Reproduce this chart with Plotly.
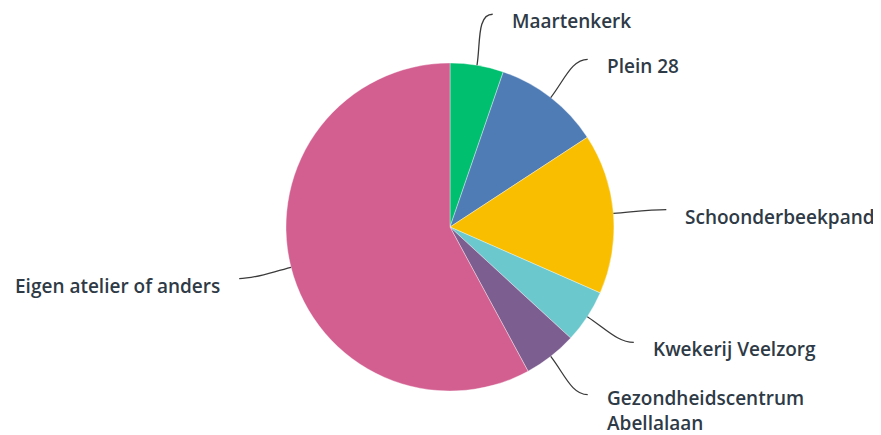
import math
import plotly.graph_objects as go

labels = ["Maartenkerk", "Plein 28", "Schoonderbeekpand", "Kwekerij Veelzorg",
          "Gezondheidscentrum Abellalaan", "Eigen atelier of anders"]
values = [5, 10, 15, 5, 5, 55]
colors = ["#00BF6F", "#507CB6", "#F9BE00", "#6BC8CD", "#7D5E90", "#D25F90"]

W, H = 881, 435
OFF = 8  # page body margin
CX, CY, R = 450 - OFF, 227 - OFF, 164
R_END = 217
TEXT_COLOR = "#2E3A46"
FONT = "'Open Sans', Roboto, sans-serif"
FS = 19
BOTTOM_LIMIT = H - OFF - 1  # keep wrapped labels inside the visible page


def px_to_paper(x, y):
    return x / W, 1 - y / H


fig = go.Figure(go.Pie(
    labels=labels, values=values, sort=False, direction="clockwise", rotation=0,
    marker=dict(colors=colors, line=dict(color="rgba(255,255,255,0.6)", width=0.6)),
    textinfo="none", hoverinfo="label+percent", showlegend=False,
    domain=dict(x=[(CX - R) / W, (CX + R) / W], y=[1 - (CY + R) / H, 1 - (CY - R) / H]),
))

total = sum(values)
cum = 0
shapes, annotations = [], []
for lab, v in zip(labels, values):
    mid = (cum + v / 2) / total * 2 * math.pi
    cum += v
    s, c = math.sin(mid), math.cos(mid)
    side = 1 if s >= 0 else -1
    toward = 1 if (mid % math.pi) < math.pi / 2 else -1
    if side < 0:
        toward = -toward
    ang_end = mid + toward * side * math.radians(1.9) * abs(c)
    p0 = (CX + R * s, CY - R * c)
    p3 = (CX + R_END * math.sin(ang_end), CY - R_END * math.cos(ang_end))
    p1 = (CX + (R + 22) * s, CY - (R + 22) * c)
    p2 = (p3[0] - side * 16, p3[1])
    pts = [px_to_paper(*p) for p in (p0, p1, p2, p3)]
    path = "M {:.5f},{:.5f} C {:.5f},{:.5f} {:.5f},{:.5f} {:.5f},{:.5f}".format(
        *[coord for pt in pts for coord in pt])
    shapes.append(dict(type="path", xref="paper", yref="paper", path=path,
                       line=dict(color="#3a3a3a", width=1.3)))
    parts = lab.split(" ")
    tx = p3[0] + side * 17
    ty = p3[1] + 7
    common = dict(xref="paper", yref="paper", showarrow=False,
                  xanchor="left" if side > 0 else "right", align="left",
                  font=dict(family=FONT, size=FS, color=TEXT_COLOR, weight=600))
    if len(lab) > 24:
        text = parts[0] + "<br>" + " ".join(parts[1:])
        block_h = 2 * FS * 1.3 + 2
        top = min(ty - FS * 0.65 - 1, BOTTOM_LIMIT - block_h)
        ax, ay = px_to_paper(tx, top)
        annotations.append(dict(x=ax, y=ay, text=text, yanchor="top", **common))
    else:
        ax, ay = px_to_paper(tx, ty)
        annotations.append(dict(x=ax, y=ay, text=lab, yanchor="middle", **common))

fig.update_layout(
    width=W, height=H, margin=dict(l=0, r=0, t=0, b=0),
    paper_bgcolor="white", plot_bgcolor="white",
    shapes=shapes, annotations=annotations,
)
fig.write_html("out.html")
